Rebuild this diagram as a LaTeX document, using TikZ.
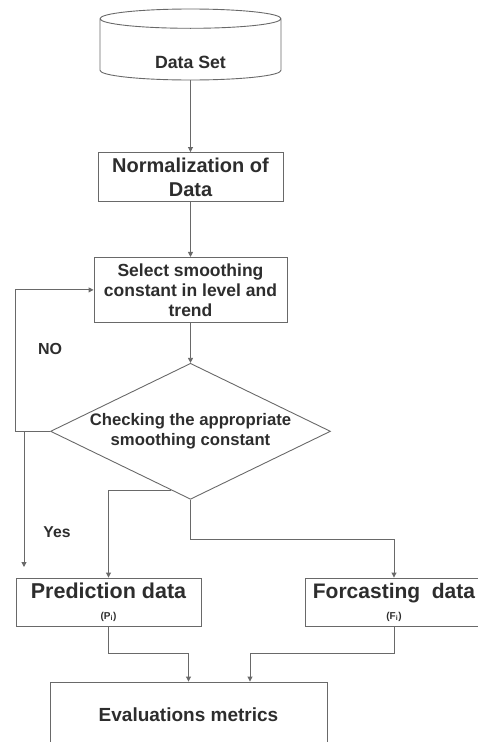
\documentclass[tikz,border=0pt]{standalone}
\usepackage{fontspec}
\setmainfont{Liberation Sans}
\usetikzlibrary{positioning,shapes.geometric,arrows.meta}
\definecolor{linegray}{RGB}{105,105,105}
\definecolor{textgray}{RGB}{45,45,45}
\tikzset{
	base/.style={draw=linegray, line width=0.9pt, text=textgray, align=center, inner sep=1pt},
	stepbox/.style={base, rectangle},
	dbase/.style={base, cylinder, shape border rotate=90, aspect=0.265},
	check/.style={base, diamond, aspect=2.07, inner sep=0pt},
	flow/.style={draw=linegray, line width=0.9pt, -{Triangle[length=5pt,width=5pt]}},
	lbl/.style={text=textgray, inner sep=0pt},
}

\begin{document}
\begin{tikzpicture}[x=1pt, y=-1pt]
	\useasboundingbox (0,0) rectangle (478,742);
	\node[dbase, minimum width=181pt, minimum height=71pt, anchor=shape center, text height=37pt, text depth=-10pt, font=\bfseries\fontsize{17.7}{20}\selectfont] (ds) at (190.5,44.5) {Data Set};
	\node[stepbox, minimum width=185pt, minimum height=49pt, font=\bfseries\fontsize{20}{24}\selectfont] (norm) at (190.5,177) {Normalization of\\Data};
	\node[stepbox, below=55pt of norm, minimum width=193pt, minimum height=65pt, font=\bfseries\fontsize{17.5}{20}\selectfont] (sel) {Select smoothing\\constant in level and\\trend};
	\node[check, below=40pt of sel, minimum width=280pt, minimum height=136pt, font=\bfseries\fontsize{16.7}{19.5}\selectfont] (chk) {Checking the appropriate\\smoothing constant};
	\node[stepbox, minimum width=185pt, minimum height=48pt, font=\bfseries\fontsize{21.5}{21}\selectfont] (pred) at (108.5,602) {Prediction data\\{\fontsize{10}{12}\selectfont (P\textsubscript{i})}};
	\node[stepbox, minimum width=178pt, minimum height=48pt, font=\bfseries\fontsize{21}{21}\selectfont] (fore) at (394,602) {Forcasting\ \ data\\{\fontsize{10}{12}\selectfont (F\textsubscript{i})}};
	\node[stepbox, minimum width=277pt, minimum height=66pt, font=\bfseries\fontsize{19}{22}\selectfont] (eval) at (188.5,715) {Evaluations metrics};
	\node[lbl, font=\bfseries\fontsize{16}{18}\selectfont] (no) at (50,349) {NO};
	\node[lbl, font=\bfseries\fontsize{15.7}{18}\selectfont] (yes) at (57,532) {Yes};
	\coordinate (yesend) at (24,567);

	\draw[flow] (ds) -- (norm);
	\draw[flow] (norm) -- (sel);
	\draw[flow] (sel) -- (chk);
	\draw[flow] (chk.west) -- ++(-35,0) |- (sel.west);
	\draw[flow] (chk.west -| yesend) -- (yesend);
	\draw[flow] (chk.252) -| (pred.north);
	\draw[flow] (chk.south) -- ++(0,40) -| (fore.north);
	\draw[flow] (pred.south) -- ++(0,27) -| (eval.north);
	\draw[flow] (fore.south) -- ++(0,27) -| ([xshift=61.5pt]eval.north);
\end{tikzpicture}
\end{document}
